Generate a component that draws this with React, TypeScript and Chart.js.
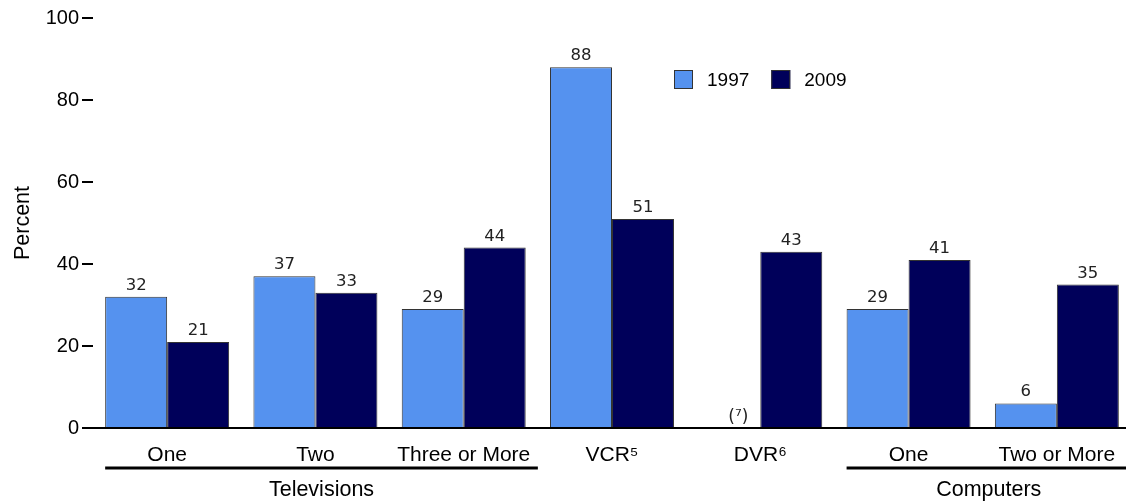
import React, { useEffect, useRef } from "react";
import { Chart, registerables } from "chart.js";

Chart.register(...registerables);

// ---- Data ----
const categories = ["One", "Two", "Three or More", "VCR⁵", "DVR⁶", "One", "Two or More"];
const seriesLabels = ["1997", "2009"];
const values1997: (number | null)[] = [32, 37, 29, 88, null, 29, 6];
const values2009: (number | null)[] = [21, 33, 44, 51, 43, 41, 35];
const notes1997: (string | null)[] = [null, null, null, null, "(⁷)", null, null];
const yTicks = [0, 20, 40, 60, 80, 100];
const groupLabels = ["Televisions", "Computers"];
const groupStart = [0, 5];
const groupEnd = [2, 6];

// ---- Styles ----
const colors = ["#5592EF", "#00005A"];
const FONT = "'Liberation Sans', Arial, 'DejaVu Sans', sans-serif";
const LABEL_FONT = "'DejaVu Sans', Verdana, sans-serif";

const overlayPlugin = {
  id: "overlay",
  afterDatasetsDraw(chart: any) {
    const ctx = chart.ctx as CanvasRenderingContext2D;
    const metas = [chart.getDatasetMeta(0), chart.getDatasetMeta(1)];
    const series = [values1997, values2009];
    const yScale = chart.scales.y;
    const xScale = chart.scales.x;
    ctx.save();
    // value labels
    ctx.font = `16.5px ${LABEL_FONT}`;
    ctx.fillStyle = "#222";
    ctx.textAlign = "center";
    ctx.textBaseline = "alphabetic";
    metas.forEach((meta: any, di: number) => {
      meta.data.forEach((bar: any, i: number) => {
        const v = series[di][i];
        if (v == null) return;
        ctx.fillText(String(v), bar.x, bar.y - 7);
      });
    });
    // footnote labels for missing values
    ctx.font = `17px ${LABEL_FONT}`;
    notes1997.forEach((n, i) => {
      if (!n) return;
      const b1 = metas[1].data[i];
      const x = b1.x - b1.width + 9;
      ctx.fillText(n, x, yScale.getPixelForValue(0) - 6);
    });

    // group underlines and labels
    const catWidth = xScale.width / categories.length;
    groupLabels.forEach((g, gi) => {
      const b0 = metas[0].data[groupStart[gi]];
      const x1 = b0.x - b0.width / 2;
      const x2 = xScale.getPixelForValue(groupEnd[gi]) + catWidth / 2;
      ctx.strokeStyle = "#000";
      ctx.lineWidth = 3;
      ctx.beginPath();
      ctx.moveTo(x1, 468);
      ctx.lineTo(x2, 468);
      ctx.stroke();
      ctx.font = `21.5px ${FONT}`;
      ctx.fillStyle = "#000";
      ctx.textAlign = "center";
      ctx.textBaseline = "middle";
      ctx.fillText(g, (x1 + x2) / 2, 490);
    });

    // legend
    let lx = 674;
    const ly = 70;
    const box = 19;
    ctx.font = `19px ${FONT}`;
    ctx.textAlign = "left";
    ctx.textBaseline = "middle";
    seriesLabels.forEach((s, i) => {
      ctx.fillStyle = colors[i];
      ctx.fillRect(lx, ly, box, box);
      ctx.strokeStyle = "#333";
      ctx.lineWidth = 1;
      ctx.strokeRect(lx + 0.5, ly + 0.5, box - 1, box - 1);
      ctx.fillStyle = "#000";
      const tx = lx + box + 14;
      ctx.fillText(s, tx, ly + box / 2 + 1);
      lx = tx + ctx.measureText(s).width + 22;
    });
    ctx.restore();
  },
};

export default function App() {
  const ref = useRef<HTMLCanvasElement | null>(null);

  useEffect(() => {
    if (!ref.current) return;
    const chart = new Chart(ref.current, {
      type: "bar",
      data: {
        labels: categories,
        datasets: [
          {
            label: seriesLabels[0],
            data: values1997,
            backgroundColor: colors[0],
            borderColor: "#333",
            borderWidth: 1,
          },
          {
            label: seriesLabels[1],
            data: values2009,
            backgroundColor: colors[1],
            borderColor: "#333",
            borderWidth: 1,
          },
        ],
      },
      options: {
        animation: false,
        responsive: false,
        devicePixelRatio: 1,
        layout: { padding: { top: 18, left: 0, right: 0, bottom: 0 } },
        datasets: { bar: { categoryPercentage: 0.836, barPercentage: 1 } },
        plugins: {
          legend: { display: false },
          tooltip: { enabled: false },
        },
        scales: {
          x: {
            type: "category",
            offset: true,
            grid: { display: false, drawTicks: false },
            border: { display: true, color: "#000", width: 2 },
            ticks: {
              autoSkip: false,
              maxRotation: 0,
              minRotation: 0,
              padding: 15,
              color: "#000",
              font: { family: FONT, size: 21 },
            },
            afterFit: (s: any) => {
              s.height = 73;
            },
          },
          y: {
            min: 0,
            max: 100,
            afterBuildTicks: (s: any) => {
              s.ticks = yTicks.map((v) => ({ value: v }));
            },
            ticks: {
              padding: 3,
              color: "#000",
              font: { family: FONT, size: 20 },
            },
            grid: {
              drawOnChartArea: false,
              drawTicks: true,
              tickLength: 11,
              color: "#000",
              lineWidth: 2,
            },
            border: { display: false },
            title: {
              display: true,
              text: "Percent",
              color: "#000",
              font: { family: FONT, size: 21.5 },
              padding: { top: 10, bottom: 0 },
            },
            afterFit: (s: any) => {
              s.width = 93;
            },
          },
        },
      },
      plugins: [overlayPlugin],
    } as any);
    return () => chart.destroy();
  }, []);

  return (
    <div
      style={{
        position: "absolute",
        left: 0,
        top: 0,
        width: 1126,
        height: 501,
        overflow: "hidden",
        background: "#fff",
      }}
    >
      <canvas ref={ref} width={1131} height={501} style={{ width: 1131, height: 501, display: "block" }} />
    </div>
  );
}
